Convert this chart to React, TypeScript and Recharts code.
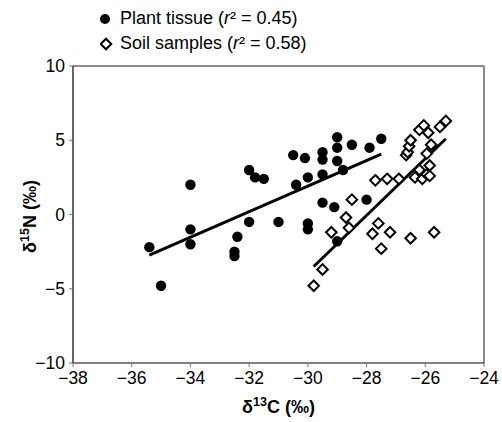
import React from "react";
import { ScatterChart, Scatter, XAxis, YAxis, ReferenceLine, Label } from "recharts";

const plantX = [-35.4, -35.0, -34, -34, -34, -32.4, -32.5, -32.5, -32, -31.8, -31.5, -32, -31, -30.5, -30.4, -30.1, -29.5, -29.5, -29, -29, -29, -28.5, -27.9, -27.5, -30, -29.5, -28.8, -29.5, -29.1, -28, -30, -30, -29];
const plantY = [-2.2, -4.8, 2, -1, -2, -1.5, -2.5, -2.8, 3, 2.5, 2.4, -0.5, -0.5, 4, 2, 3.8, 4.2, 3.7, 5.2, 4.5, 3.6, 4.7, 4.5, 5.1, 2.5, 2.7, 3.0, 0.8, 0.5, 1.0, -0.6, -1.0, -1.8];

const soilX = [-29.8, -29.5, -29.2, -28.6, -28.7, -28.5, -27.7, -27.3, -26.9, -27.6, -27.8, -27.2, -27.5, -26.5, -25.7, -26.35, -26.1, -25.95, -25.85, -26.2, -25.85, -25.95, -25.8, -26.65, -26.6, -26.55, -26.5, -25.9, -26.2, -26.05, -25.5, -25.3];
const soilY = [-4.8, -3.7, -1.2, -0.9, -0.2, 1.0, 2.3, 2.4, 2.4, -0.6, -1.3, -1.2, -2.3, -1.6, -1.2, 2.5, 2.4, 2.7, 2.6, 3.0, 3.3, 4.1, 4.7, 4.0, 4.2, 4.6, 5.0, 5.5, 5.7, 6.0, 5.9, 6.3];

const plantTrendX = [-35.4, -27.5];
const plantTrendY = [-2.73, 4.07];
const soilTrendX = [-29.8, -25.3];
const soilTrendY = [-3.5, 5.1];

const xTicks = [-38, -36, -34, -32, -30, -28, -26, -24];
const yTicks = [-10, -5, 0, 5, 10];

const plantData = plantX.map((x, i) => ({ x, y: plantY[i] }));
const soilData = soilX.map((x, i) => ({ x, y: soilY[i] }));

const FONT = "Arial, 'Liberation Sans', sans-serif";
const fmt = (v: number) => String(v).replace("-", "\u2212");

const Circle = (p: any) => <circle cx={p.cx} cy={p.cy} r={5.2} fill="#000" />;
const Diamond = (p: any) => {
  const s = 5.3;
  return (
    <path
      d={`M${p.cx},${p.cy - s} L${p.cx + s},${p.cy} L${p.cx},${p.cy + s} L${p.cx - s},${p.cy} Z`}
      fill="#fff"
      stroke="#000"
      strokeWidth={2}
    />
  );
};

export default function App() {
  return (
    <div style={{ position: "relative", width: 502, height: 422, fontFamily: FONT, overflow: "hidden" }}>
      <style>{`html, body { margin: 0; padding: 0; } .recharts-surface { overflow: visible; }`}</style>
      <ScatterChart width={502} height={422} margin={{ top: 66, right: 18, left: 0, bottom: 29 }}>
        <XAxis
          type="number"
          dataKey="x"
          domain={[-38, -24]}
          ticks={xTicks}
          tickFormatter={fmt}
          height={30}
          tickSize={4}
          tickMargin={5}
          interval={0}
          axisLine={{ stroke: "#000", strokeWidth: 1.2 }}
          tickLine={{ stroke: "#777" }}
          tick={{ fill: "#000", fontSize: 17.5, fontFamily: FONT }}
          allowDataOverflow
        >
          <Label
            content={(props: any) => {
              const vb = props.viewBox || {};
              const cx = vb.x + vb.width / 2;
              return (
                <text x={cx} y={vb.y + 50} textAnchor="middle" fontWeight="bold" fontSize={18} fontFamily={FONT} fill="#000">
                  δ<tspan dy={-7} fontSize={12.5}>13</tspan>
                  <tspan dy={7}>C (‰)</tspan>
                </text>
              );
            }}
          />
        </XAxis>
        <YAxis
          type="number"
          dataKey="y"
          domain={[-10, 10]}
          ticks={yTicks}
          tickFormatter={fmt}
          width={73}
          tickSize={4}
          tickMargin={4}
          interval={0}
          axisLine={{ stroke: "#000", strokeWidth: 1.2 }}
          tickLine={{ stroke: "#777" }}
          tick={{ fill: "#000", fontSize: 17.5, fontFamily: FONT }}
          allowDataOverflow
        >
          <Label
            content={(props: any) => {
              const vb = props.viewBox || {};
              const cy = vb.y + vb.height / 2 + 2;
              const x = 36;
              return (
                <text x={x} y={cy} transform={`rotate(-90, ${x}, ${cy})`} textAnchor="middle" fontWeight="bold" fontSize={18} fontFamily={FONT} fill="#000">
                  δ<tspan dy={-7} fontSize={12.5}>15</tspan>
                  <tspan dy={7}>N (‰)</tspan>
                </text>
              );
            }}
          />
        </YAxis>
        <ReferenceLine y={10} stroke="#8c8c8c" strokeWidth={2} />
        <ReferenceLine x={-24} stroke="#8c8c8c" strokeWidth={2} />
        <ReferenceLine
          segment={[{ x: plantTrendX[0], y: plantTrendY[0] }, { x: plantTrendX[1], y: plantTrendY[1] }]}
          stroke="#000"
          strokeWidth={3}
        />
        <ReferenceLine
          segment={[{ x: soilTrendX[0], y: soilTrendY[0] }, { x: soilTrendX[1], y: soilTrendY[1] }]}
          stroke="#000"
          strokeWidth={3}
        />
        <Scatter data={soilData} shape={Diamond} isAnimationActive={false} />
        <Scatter data={plantData} shape={Circle} isAnimationActive={false} />
      </ScatterChart>
      <div style={{ position: "absolute", left: 100, top: 6, fontSize: 18, color: "#000", lineHeight: "25px", fontFamily: FONT }}>
        <div style={{ display: "flex", alignItems: "center" }}>
          <svg width={14} height={14} style={{ marginRight: 6 }}>
            <circle cx={5} cy={7} r={5} fill="#000" />
          </svg>
          <span>Plant tissue (<i>r</i>² = 0.45)</span>
        </div>
        <div style={{ display: "flex", alignItems: "center" }}>
          <svg width={14} height={14} style={{ marginRight: 6 }}>
            <path d="M5,1.7 L10.3,7 L5,12.3 L-0.3,7 Z" fill="#fff" stroke="#000" strokeWidth={2} transform="translate(1,0)" />
          </svg>
          <span>Soil samples (<i>r</i>² = 0.58)</span>
        </div>
      </div>
    </div>
  );
}
